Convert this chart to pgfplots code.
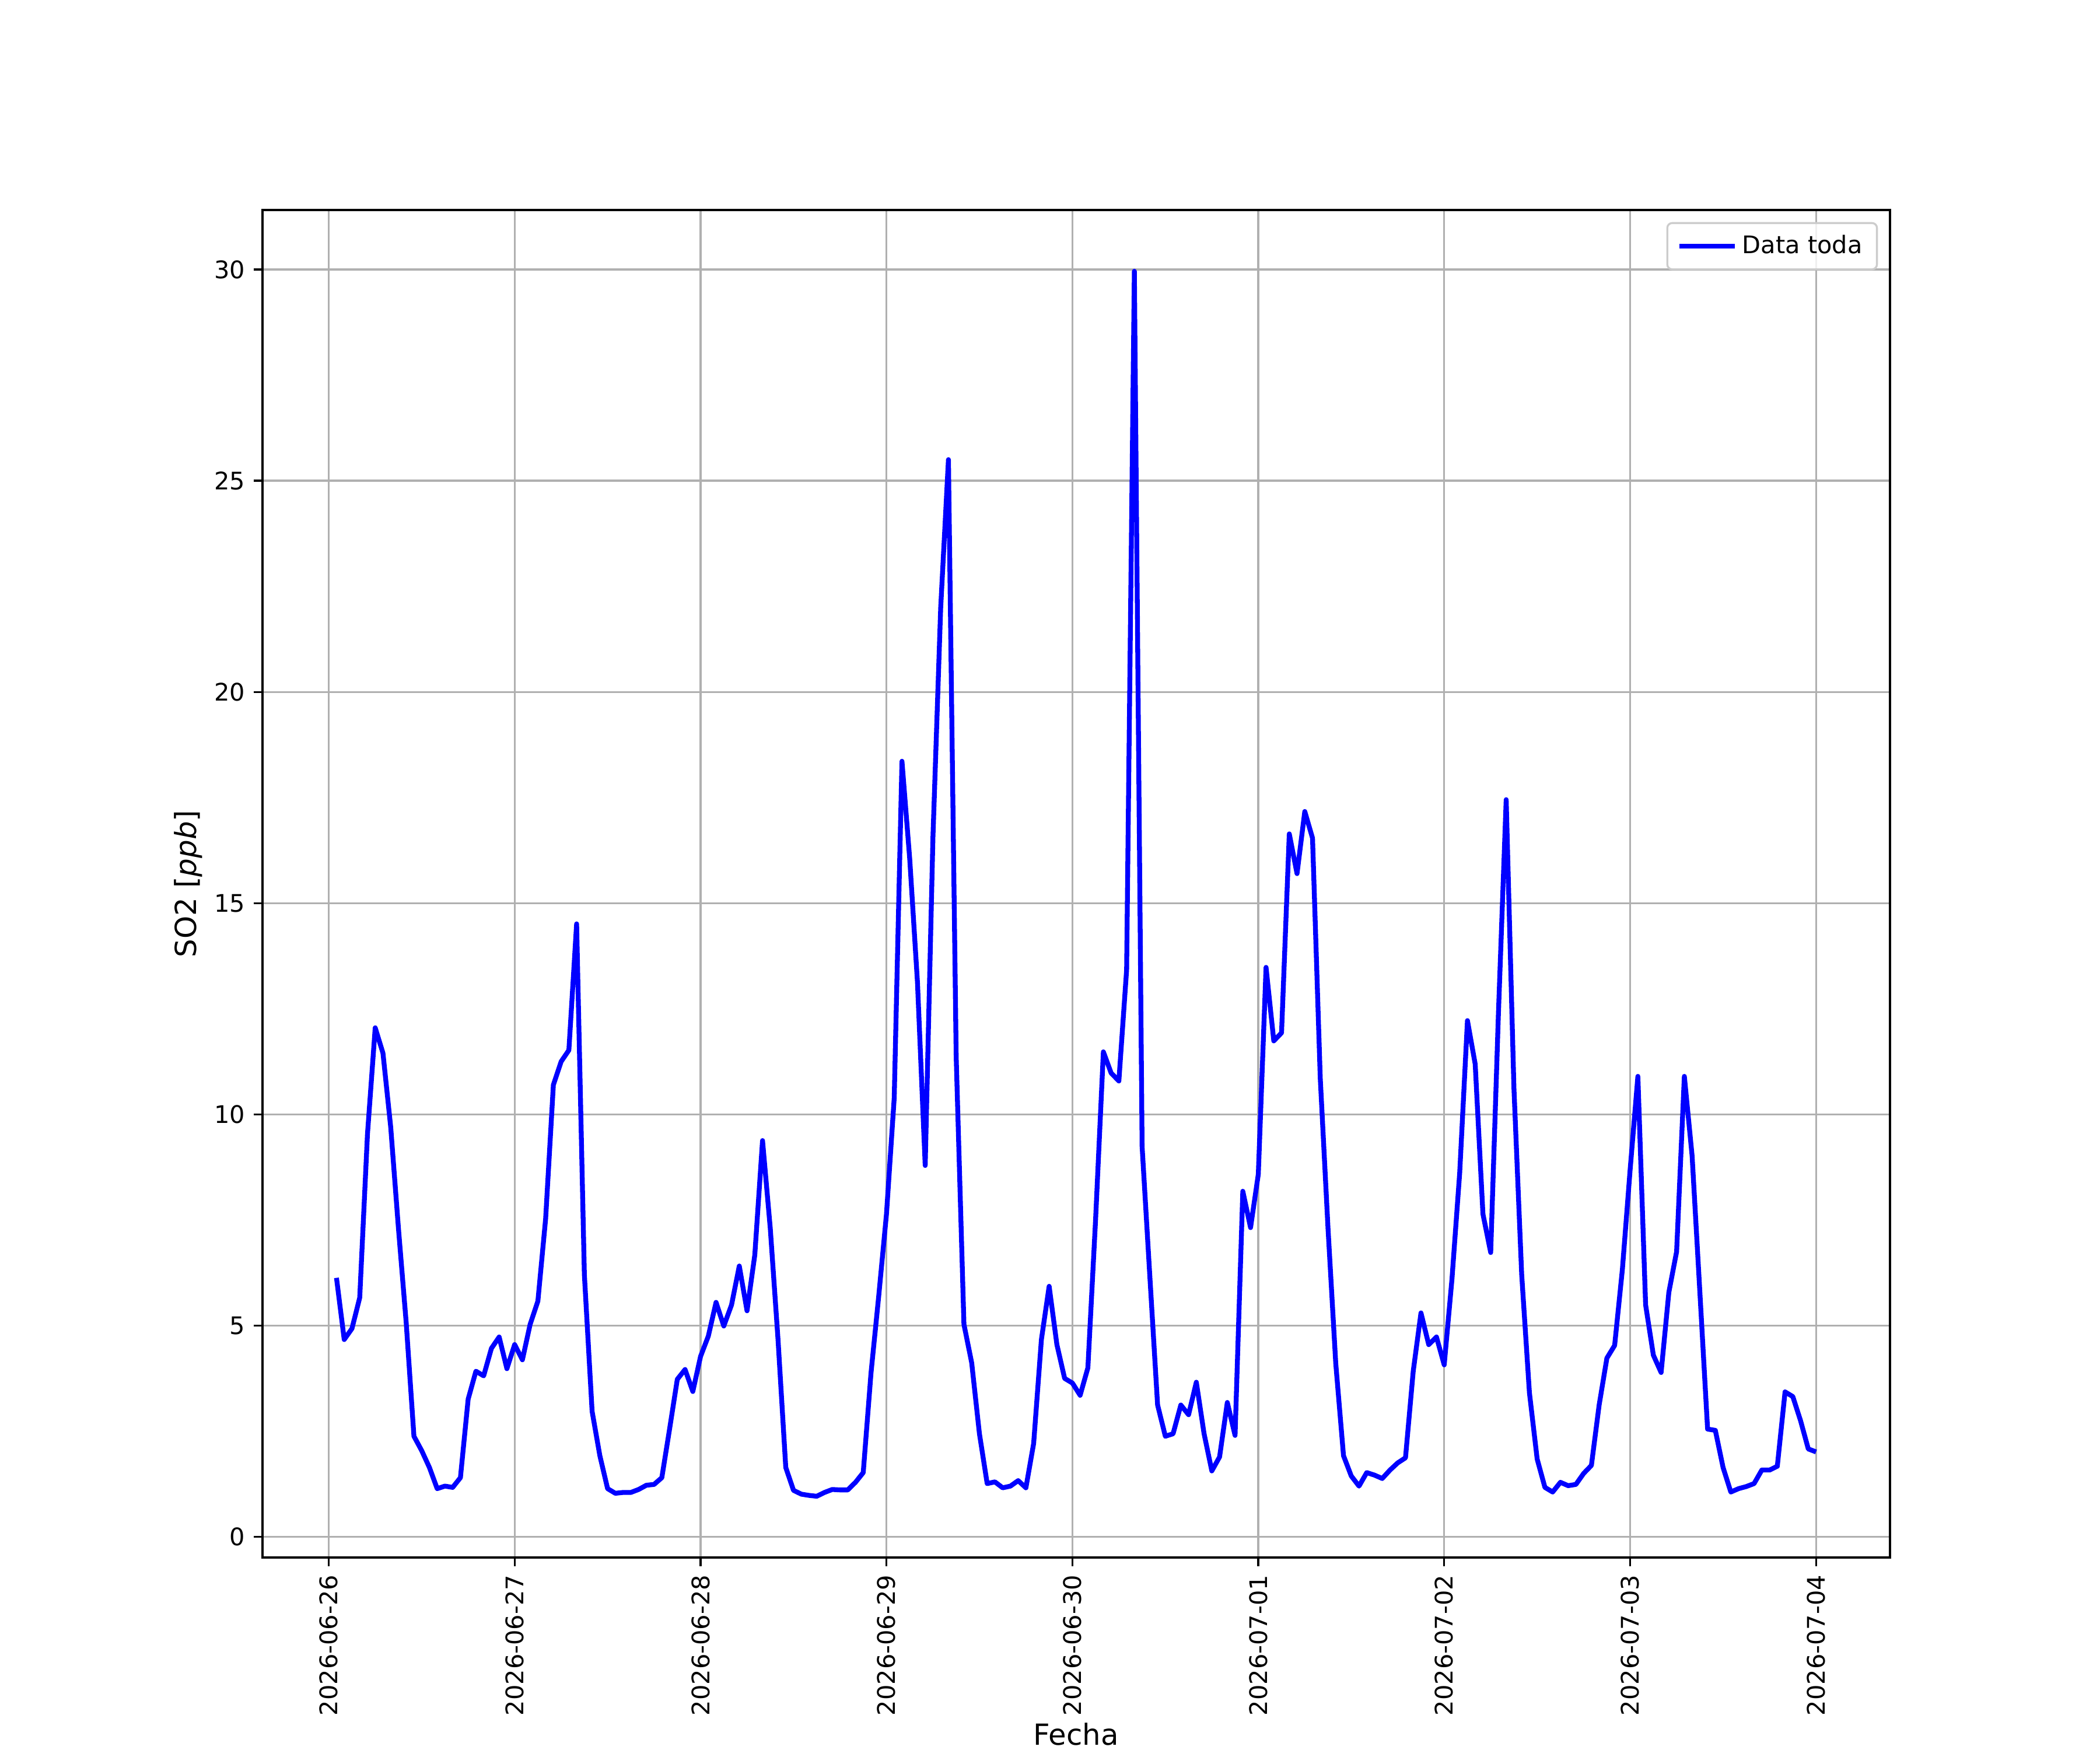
\documentclass[border=0pt]{standalone}
\usepackage{fontspec}
\setmainfont{DejaVu Sans}
\usepackage{pgfplots}
\pgfplotsset{compat=1.18}
\usepackage{pgfplotstable}
\definecolor{gridgray}{HTML}{B0B0B0}
\definecolor{legframe}{HTML}{CCCCCC}

\pgfplotstableread{
h v
1 6.13
2 4.67
3 4.93
4 5.66
5 9.53
6 12.05
7 11.45
8 9.70
9 7.30
10 5.07
11 2.38
12 2.04
13 1.64
14 1.14
15 1.20
16 1.17
17 1.40
18 3.26
19 3.92
20 3.81
21 4.46
22 4.73
23 3.98
24 4.55
25 4.19
26 5.03
27 5.58
28 7.53
29 10.70
30 11.25
31 11.52
32 14.51
33 6.21
34 2.97
35 1.92
36 1.14
37 1.03
38 1.05
39 1.05
40 1.12
41 1.22
42 1.24
43 1.40
44 2.55
45 3.73
46 3.96
47 3.44
48 4.27
49 4.75
50 5.55
51 4.99
52 5.49
53 6.41
54 5.35
55 6.67
56 9.38
57 7.30
58 4.67
59 1.64
60 1.10
61 1.01
62 0.98
63 0.96
64 1.05
65 1.12
66 1.11
67 1.11
68 1.29
69 1.52
70 3.87
71 5.70
72 7.64
73 10.39
74 18.36
75 16.05
76 13.13
77 8.79
78 16.57
79 22.0
80 25.5
81 11.36
82 5.03
83 4.12
84 2.44
85 1.26
86 1.30
87 1.16
88 1.20
89 1.33
90 1.16
91 2.21
92 4.67
93 5.93
94 4.55
95 3.75
96 3.64
97 3.35
98 4.00
99 7.53
100 11.48
101 10.98
102 10.79
103 13.42
104 29.96
105 9.24
106 6.16
107 3.12
108 2.38
109 2.44
110 3.12
111 2.89
112 3.66
113 2.44
114 1.56
115 1.89
116 3.18
117 2.40
118 8.18
119 7.32
120 8.58
121 13.48
122 11.74
123 11.93
124 16.64
125 15.70
126 17.17
127 16.54
128 10.85
129 7.30
130 4.10
131 1.92
132 1.44
133 1.20
134 1.52
135 1.46
136 1.38
137 1.58
138 1.75
139 1.87
140 3.92
141 5.30
142 4.55
143 4.73
144 4.07
145 6.10
146 8.62
147 12.22
148 11.19
149 7.64
150 6.73
151 12.4
152 17.45
153 10.62
154 6.21
155 3.41
156 1.84
157 1.17
158 1.06
159 1.29
160 1.21
161 1.24
162 1.50
163 1.69
164 3.12
165 4.23
166 4.53
167 6.33
168 8.69
169 10.90
170 5.49
171 4.30
172 3.89
173 5.79
174 6.75
175 10.90
176 9.02
177 5.80
178 2.55
179 2.52
180 1.64
181 1.06
182 1.14
183 1.19
184 1.26
185 1.58
186 1.58
187 1.67
188 3.43
189 3.32
190 2.75
191 2.08
192 2.01
}\sotable

\begin{document}
\begin{tikzpicture}
\path[use as bounding box] (0,0) rectangle (12in,10in);
\begin{axis}[
  at={(1.5in,1.1in)}, anchor=south west,
  width=9.3in, height=7.7in, scale only axis,
  xmin=-8.55, xmax=201.55, ymin=-0.49, ymax=31.41,
  xtick={0,24,...,192},
  xticklabels={2026-06-26,2026-06-27,2026-06-28,2026-06-29,2026-06-30,2026-07-01,2026-07-02,2026-07-03,2026-07-04},
  ytick={0,5,...,30},
  grid=major,
  major grid style={draw=gridgray, line width=0.8pt},
  axis line style={line width=0.8pt},
  every tick/.style={black, line width=0.8pt},
  tick align=outside, major tick length=3.5pt,
  xtick pos=left, ytick pos=left,
  /pgf/number format/assume math mode=true,
  xticklabel style={rotate=90, anchor=east, font=\fontsize{10}{12}\selectfont, inner sep=3.5pt},
  yticklabel style={font=\fontsize{10}{12}\selectfont, inner sep=3.5pt},
  xlabel={Fecha}, ylabel={SO2 [\textit{ppb}]},
  label style={font=\fontsize{12}{14}\selectfont},
  xlabel style={yshift=4pt},
  ylabel style={yshift=-2pt},
  legend style={at={(1,1)}, xshift=-5pt, yshift=-5pt, anchor=north east,
    draw=legframe, line width=0.8pt, rounded corners=2pt, fill=white,
    fill opacity=0.8, text opacity=1, font=\fontsize{10}{12}\selectfont,
    inner xsep=4pt, inner ysep=3pt},
  legend image code/.code={\draw[#1, line width=2pt] (0pt,0pt) -- (23pt,0pt);},
]
\addplot[blue, line width=2pt, line join=round] table[x=h, y=v]{\sotable};
\addlegendentry{Data toda}
\end{axis}
\end{tikzpicture}
\end{document}
